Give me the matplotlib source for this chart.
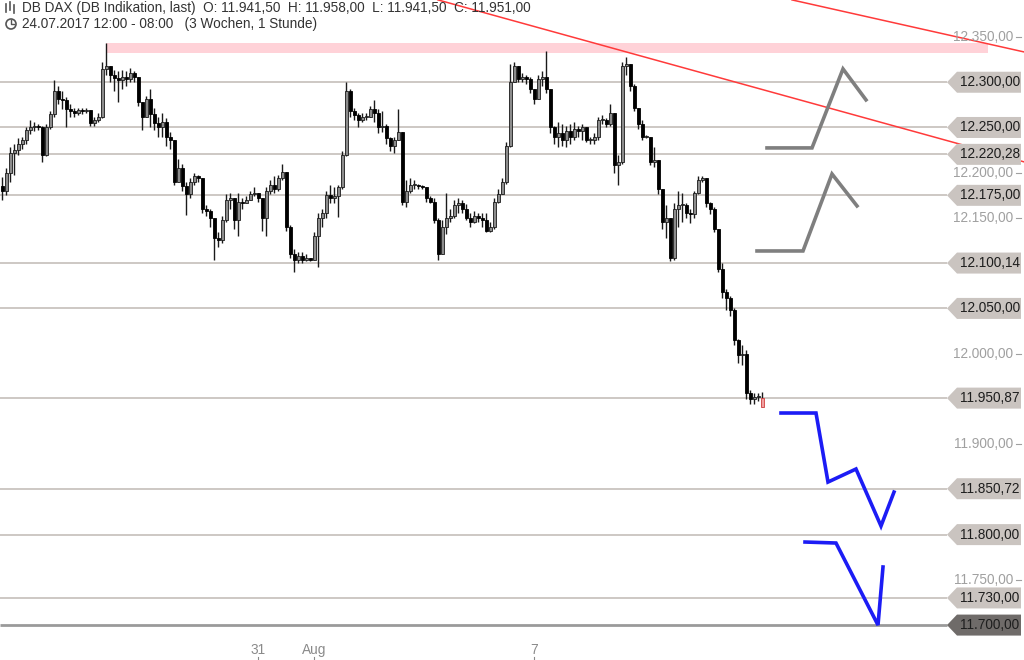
import matplotlib
matplotlib.use("Agg")
import matplotlib.pyplot as plt
import matplotlib.patches as patches
import matplotlib.transforms as mtransforms
import numpy as np

plt.rcParams['font.family'] = ['Liberation Sans', 'DejaVu Sans']

# Stundenkerzen DB DAX (Indikation), Schlusskurse / Hochs / Tiefs
closes = [
    12180, 12200, 12222, 12225, 12232, 12236, 12247, 12250, 12252, 12250,
    12220, 12250, 12265, 12290, 12282, 12280, 12270, 12268, 12266, 12269,
    12268, 12269, 12255, 12258, 12262, 12315, 12318, 12308, 12305, 12302,
    12306, 12304, 12310, 12306, 12278, 12262, 12282, 12265, 12255, 12250,
    12256, 12240, 12236, 12190, 12205, 12185, 12176, 12190, 12196, 12194,
    12160, 12158, 12150, 12128, 12126, 12148, 12170, 12172, 12148, 12168,
    12166, 12170, 12176, 12178, 12172, 12150, 12180, 12186, 12182, 12194,
    12201, 12140, 12110, 12104, 12108, 12104, 12106, 12104, 12130, 12150,
    12156, 12175, 12172, 12174, 12184, 12220, 12290, 12268, 12264, 12258,
    12262, 12262, 12270, 12266, 12250, 12252, 12238, 12230, 12236, 12245,
    12168, 12180, 12186, 12186, 12185, 12184, 12172, 12168, 12148, 12110,
    12140, 12150, 12152, 12164, 12166, 12160, 12150, 12146, 12152, 12150,
    12148, 12136, 12140, 12168, 12176, 12190, 12230, 12300, 12318, 12304,
    12306, 12304, 12292, 12282, 12304, 12306, 12292, 12250, 12240, 12244,
    12236, 12246, 12240, 12248, 12246, 12250, 12236, 12236, 12240, 12258,
    12258, 12254, 12266, 12208, 12212, 12318, 12320, 12296, 12272, 12254,
    12240, 12240, 12212, 12214, 12182, 12145, 12150, 12106, 12160, 12164,
    12164, 12156, 12154, 12178, 12192, 12194, 12166, 12160, 12138, 12094,
    12068, 12062, 12048, 12015, 11998, 12000, 11956, 11950, 11952, 11953,
    11951,
]
highs = [
    12195, 12205, 12228, 12232, 12238, 12240, 12250, 12258, 12256, 12254,
    12252, 12254, 12268, 12302, 12296, 12290, 12284, 12276, 12272, 12272,
    12272, 12272, 12258, 12262, 12266, 12322, 12343, 12318, 12314, 12312,
    12314, 12312, 12316, 12312, 12306, 12278, 12285, 12292, 12272, 12262,
    12266, 12260, 12245, 12236, 12215, 12210, 12190, 12194, 12200, 12198,
    12164, 12164, 12160, 12150, 12134, 12152, 12176, 12178, 12170, 12178,
    12172, 12174, 12180, 12184, 12176, 12160, 12184, 12192, 12196, 12198,
    12210, 12201, 12142, 12116, 12112, 12112, 12110, 12106, 12134, 12156,
    12160, 12180, 12186, 12184, 12186, 12224, 12300, 12292, 12272, 12266,
    12266, 12266, 12274, 12280, 12270, 12268, 12254, 12240, 12240, 12270,
    12245, 12192, 12194, 12192, 12188, 12186, 12175, 12174, 12172, 12150,
    12148, 12178, 12160, 12170, 12172, 12170, 12165, 12155, 12158, 12156,
    12156, 12156, 12146, 12172, 12182, 12194, 12234, 12320, 12322, 12316,
    12310, 12308, 12306, 12292, 12308, 12312, 12334, 12292, 12252, 12256,
    12254, 12252, 12254, 12256, 12252, 12254, 12238, 12240, 12244, 12262,
    12264, 12260, 12276, 12266, 12220, 12322, 12328, 12318, 12298, 12272,
    12258, 12242, 12216, 12228, 12214, 12180, 12164, 12150, 12166, 12180,
    12178, 12166, 12160, 12180, 12196, 12196, 12170, 12168, 12162, 12138,
    12100, 12072, 12064, 12050, 12016, 12010, 12004, 11960, 11956, 11956,
    11958,
]
lows = [
    12170, 12175, 12190, 12198, 12220, 12226, 12232, 12243, 12246, 12247,
    12212, 12218, 12248, 12262, 12276, 12270, 12250, 12262, 12262, 12264,
    12265, 12266, 12252, 12252, 12256, 12260, 12308, 12300, 12290, 12278,
    12292, 12296, 12300, 12300, 12274, 12247, 12262, 12250, 12247, 12240,
    12240, 12230, 12226, 12186, 12190, 12180, 12153, 12172, 12186, 12190,
    12156, 12152, 12140, 12103, 12118, 12122, 12146, 12160, 12138, 12130,
    12160, 12166, 12170, 12174, 12168, 12136, 12130, 12176, 12178, 12180,
    12192, 12136, 12106, 12090, 12100, 12100, 12102, 12102, 12126, 12096,
    12140, 12150, 12166, 12166, 12151, 12182, 12218, 12262, 12258, 12250,
    12256, 12258, 12266, 12256, 12244, 12245, 12232, 12224, 12222, 12236,
    12164, 12162, 12178, 12182, 12182, 12182, 12168, 12166, 12144, 12103,
    12126, 12132, 12146, 12150, 12156, 12156, 12148, 12140, 12144, 12146,
    12140, 12134, 12134, 12138, 12166, 12178, 12188, 12228, 12300, 12300,
    12300, 12298, 12288, 12276, 12300, 12296, 12288, 12244, 12232, 12228,
    12230, 12228, 12232, 12236, 12240, 12236, 12234, 12232, 12232, 12236,
    12254, 12250, 12252, 12200, 12186, 12210, 12308, 12290, 12268, 12248,
    12236, 12238, 12208, 12206, 12176, 12138, 12128, 12102, 12104, 12140,
    12146, 12150, 12144, 12150, 12176, 12190, 12162, 12154, 12134, 12090,
    12062, 12048, 12042, 12010, 11990, 11988, 11950, 11944, 11944, 11948,
    11941,
]
first_open = 12185
last_bar = {"O": 11941.50, "H": 11958.00, "L": 11941.50, "C": 11951.00}

# Datumsachse (Bar-Index des Tagesbeginns)
date_pos = [64, 78, 133]
date_labels = ["31", "Aug", "7"]

# markierte Kursniveaus
levels = [12300.00, 12250.00, 12220.28, 12175.00, 12100.14, 12050.00,
          11950.87, 11850.72, 11800.00, 11730.00]
bottom_level = 11700.00
axis_ticks = [12350, 12200, 12150, 12000, 11900, 11750]

# Widerstandszone (rosa)
zone_low, zone_high = 12332.5, 12343.5
zone_start, zone_end = 26, 246.5

# Abwaertstrendlinien (Bar-Index, Kurs)
trend_lines = [
    ([109.0, 255.5], [12391.0, 12212.0]),
    ([197.5, 255.5], [12391.0, 12333.5]),
]

# Szenarien
gray_paths = [
    ([191.25, 202.5, 210.25, 216.0], [12227.4, 12227.4, 12314.7, 12280.5]),
    ([188.75, 200.25, 207.5, 213.75], [12113.5, 12113.5, 12198.6, 12163.3]),
]
blue_paths = [
    ([194.75, 203.5, 206.5, 213.5, 219.75, 223.0],
     [11934.4, 11934.4, 11858.1, 11872.5, 11809.5, 11847.0]),
    ([200.75, 208.5, 219.0, 220.25], [11791.8, 11790.7, 11700.0, 11764.2]),
]


def de(v):
    s = f"{v:,.2f}"
    return s.replace(",", "#").replace(".", ",").replace("#", ".")


W, H = 1024, 660
fig = plt.figure(figsize=(W / 100, H / 100), dpi=100)
ax = fig.add_axes([0, 0, 1, 1])
ax.axis("off")
y_top, y_bot = 12390.9, 11661.4
ax.set_xlim(-0.5, 255.5)
ax.set_ylim(y_bot, y_top)
ppx = (y_top - y_bot) / H  # Kurs pro Pixel
bt = mtransforms.blended_transform_factory(ax.transAxes, ax.transData)
tb = mtransforms.blended_transform_factory(ax.transData, ax.transAxes)

# Zone
ax.fill_between([zone_start, zone_end], zone_low, zone_high, color="#ffd2d8", lw=0, zorder=1)

# Niveaulinien + Preisboxen
tip, rx0, rx1 = 947 / W, 957 / W, 1021 / W
half = 10.5 * ppx
for v in levels + [bottom_level]:
    dark = v == bottom_level
    ax.plot([0, tip], [v, v], transform=bt, color="#9a9a9a" if dark else "#cdc8c4",
            lw=2 if dark else 1.4, zorder=2, solid_capstyle="butt")
    poly = patches.Polygon([(tip, v), (rx0, v + half), (rx1, v + half), (rx1, v - half), (rx0, v - half)],
                           closed=True, transform=bt, facecolor="#6f6b69" if dark else "#cac4c0",
                           edgecolor="none", zorder=6)
    ax.add_patch(poly)
    ax.text(960 / W, v, de(v), transform=bt, fontsize=9.8, color="#1e1e1e",
            ha="left", va="center", zorder=7)

# Achsenbeschriftung
for v in axis_ticks:
    ax.text(1013 / W, v, de(v), transform=bt, fontsize=9.8, color="#a0a0a0",
            ha="right", va="center", zorder=5)
    ax.plot([1016 / W, 1021 / W], [v, v], transform=bt, color="#a0a0a0", lw=0.8, zorder=5)

# Trendlinien
for xs, ys in trend_lines:
    ax.plot(xs, ys, color="#ff3a3a", lw=1.1, zorder=4)

# Kerzen
n = len(closes)
x = np.arange(n)
opens = np.array([first_open] + closes[:-1], dtype=float)
c = np.array(closes, dtype=float)
opens[-1] = last_bar["O"]
c[-1] = last_bar["C"]
hi = np.maximum(np.array(highs, dtype=float), np.maximum(opens, c))
lo = np.minimum(np.array(lows, dtype=float), np.minimum(opens, c))
up = c >= opens
ax.vlines(x, lo, hi, color="#1a1a1a", lw=1.0, zorder=3)
body_w = 0.75
for i in range(n):
    o, cl = opens[i], c[i]
    bottom = min(o, cl)
    h = max(abs(cl - o), 1.0)
    if i == n - 1:
        fc, ec = "#f0a0a0", "#d04040"
    elif up[i]:
        fc, ec = "#8c8c8c", "#1a1a1a"
    else:
        fc, ec = "#000000", "#000000"
    ax.add_patch(patches.Rectangle((i - body_w / 2, bottom), body_w, h, facecolor=fc,
                                   edgecolor=ec, lw=0.6, zorder=3.5))

# Szenarien
for xs, ys in gray_paths:
    ax.plot(xs, ys, color="#7f7f7f", lw=2.6, zorder=5, solid_joinstyle="miter")
for xs, ys in blue_paths:
    ax.plot(xs, ys, color="#1c1cf5", lw=2.6, zorder=5, solid_joinstyle="miter")

# Datumsachse
for p, lab in zip(date_pos, date_labels):
    ax.text(p, 1 - 650 / H, lab, transform=tb, fontsize=9.8, color="#8a8a8a",
            ha="center", va="center")
    ax.plot([p, p], [1 - 657 / H, 0], transform=tb, color="#8a8a8a", lw=0.8, clip_on=False)

# Kopfzeile
head = (f"DB DAX (DB Indikation, last)  O: {de(last_bar['O'])}  H: {de(last_bar['H'])}  "
        f"L: {de(last_bar['L'])}  C: {de(last_bar['C'])}")
fig.text(22 / W, 1 - 8 / H, head, fontsize=9.8, color="#333333", ha="left", va="center")
fig.text(22 / W, 1 - 24 / H, "24.07.2017 12:00 - 08:00   (3 Wochen, 1 Stunde)",
         fontsize=9.8, color="#333333", ha="left", va="center")
# kleine Symbole
for k, (y0, y1) in enumerate([(4, 12), (2, 10), (5, 13)]):
    xx = (6 + 4 * k) / W
    fig.add_artist(plt.Line2D([xx, xx], [1 - y1 / H, 1 - y0 / H], transform=fig.transFigure,
                              color="#555555", lw=1.2))
fig.add_artist(patches.Circle((11, H - 24), 5, transform=None, fill=False, edgecolor="#555555", lw=1.2))
fig.add_artist(plt.Line2D([11 / W, 11 / W, 14 / W], [1 - 20 / H, 1 - 24 / H, 1 - 24 / H],
                          transform=fig.transFigure, color="#555555", lw=1.0))

fig.savefig("out.png", dpi=100)
